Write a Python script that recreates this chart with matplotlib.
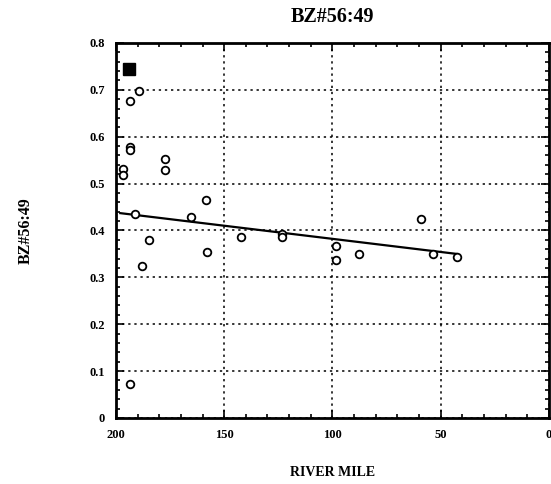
import numpy as np
import matplotlib.pyplot as plt
from matplotlib.ticker import MultipleLocator

# BZ#56:49 ratio against river mile
mile = [189.2, 193.5, 193.5, 193.5, 196.9, 196.9, 177.2, 177.2, 158.4, 191.1,
        165.4, 184.6, 188.0, 158.0, 142.3, 193.4, 123.3, 123.3, 98.4, 98.4,
        87.9, 59.0, 53.4, 42.5]
ratio = [0.698, 0.677, 0.578, 0.571, 0.532, 0.518, 0.553, 0.530, 0.466, 0.436,
         0.428, 0.379, 0.325, 0.354, 0.386, 0.073, 0.392, 0.386, 0.366, 0.337,
         0.349, 0.425, 0.350, 0.344]

# separate sample shown as a filled square
sq_mile = [194.0]
sq_ratio = [0.745]

# trend line end points
fit_mile = [198.0, 42.5]
fit_ratio = [0.437, 0.350]

plt.rcParams['font.family'] = ['Liberation Serif', 'DejaVu Serif']
plt.rcParams['font.weight'] = 'bold'

fig = plt.figure(figsize=(5.51, 4.84), dpi=100)
ax = fig.add_axes([0.2105, 0.1364, 0.7855, 0.7748])

ax.plot(mile, ratio, 'o', mfc='white', mec='black', ms=5.5, mew=1.3, zorder=3)
ax.plot(sq_mile, sq_ratio, 's', color='black', ms=9, zorder=3)
ax.plot(fit_mile, fit_ratio, '-', color='black', lw=1.6, zorder=2)

ax.set_xlim(200, 0)
ax.set_ylim(0, 0.8)
ax.xaxis.set_major_locator(MultipleLocator(50))
ax.xaxis.set_minor_locator(MultipleLocator(10))
ax.yaxis.set_major_locator(MultipleLocator(0.1))
ax.yaxis.set_minor_locator(MultipleLocator(0.02))
ax.set_yticks([0, 0.1, 0.2, 0.3, 0.4, 0.5, 0.6, 0.7, 0.8])
ax.set_yticklabels(['0', '0.1', '0.2', '0.3', '0.4', '0.5', '0.6', '0.7', '0.8'])

ax.tick_params(which='both', direction='in', top=True, right=True,
               labelsize=9, width=1.2)
ax.tick_params(which='major', length=6, pad=8)
ax.tick_params(which='minor', length=3)
for s in ax.spines.values():
    s.set_linewidth(2)

ax.grid(True, which='major', linestyle=(0, (1.5, 2.5)), color='black', lw=1.1)

ax.set_title('BZ#56:49', fontsize=14.5, fontweight='bold', pad=15)
ax.set_xlabel('RIVER MILE', fontsize=10, fontweight='bold', labelpad=18)
ax.set_ylabel('BZ#56:49', fontsize=11.5, fontweight='bold', labelpad=40)

fig.savefig('out.png', dpi=100)
